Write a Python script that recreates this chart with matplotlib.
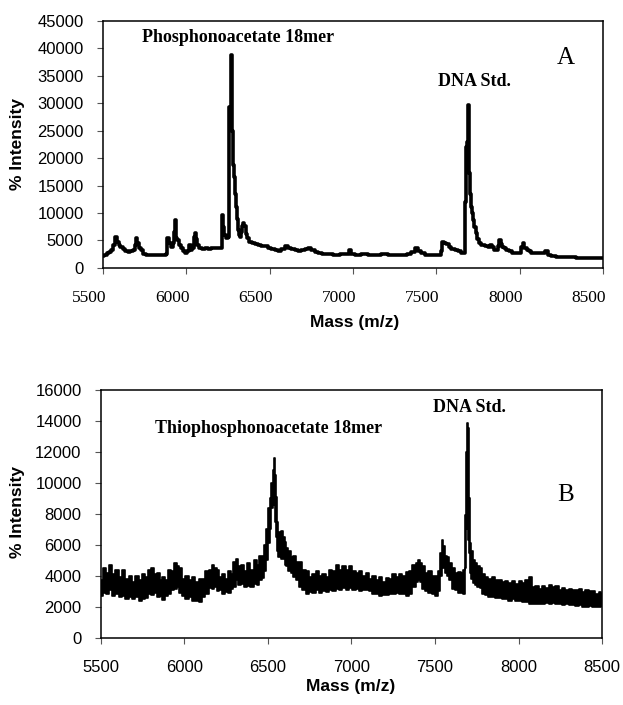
import matplotlib
matplotlib.use("Agg")  # Sin pantalla
import matplotlib.pyplot as plt  # Librería para crear gráficos
from matplotlib.transforms import ScaledTranslation  # Para desplazar etiquetas

# ---------------- Datos del panel A (espectro del fosfonoacetato) ----------------
a_mass = [5500, 5515, 5530, 5542, 5555, 5568, 5580, 5590, 5600, 5610, 5625, 5640, 5655, 5670,
          5685, 5695, 5702, 5710, 5722, 5735, 5750, 5764, 5780, 5800, 5820, 5842, 5860, 5875,
          5884, 5890, 5900, 5912, 5925, 5932, 5936, 5942, 5948, 5960, 5972, 5985, 6002, 6012,
          6022, 6032, 6042, 6047, 6052, 6060, 6072, 6085, 6100, 6124, 6140, 6160, 6180, 6200,
          6210, 6214, 6218, 6225, 6232, 6240, 6248, 6254, 6258, 6264, 6268, 6272, 6276, 6282,
          6292, 6297, 6302, 6308, 6312, 6318, 6322, 6330, 6340, 6346, 6352, 6360, 6372, 6385,
          6402, 6420, 6440, 6460, 6482, 6500, 6520, 6542, 6560, 6580, 6602, 6620, 6640, 6660,
          6682, 6700, 6720, 6742, 6760, 6780, 6802, 6830, 6860, 6900, 6940, 6970, 6982, 6995,
          7030, 7070, 7110, 7150, 7190, 7230, 7270, 7310, 7340, 7360, 7382, 7400, 7420, 7444,
          7480, 7522, 7532, 7537, 7550, 7565, 7582, 7600, 7620, 7642, 7660, 7672, 7678, 7682,
          7688, 7692, 7696, 7700, 7705, 7710, 7716, 7722, 7730, 7742, 7752, 7762, 7780, 7802,
          7818, 7832, 7842, 7852, 7865, 7876, 7882, 7892, 7900, 7912, 7930, 7945, 7962, 7985,
          8005, 8015, 8022, 8035, 8048, 8062, 8080, 8100, 8122, 8140, 8162, 8180, 8200, 8240,
          8280, 8320, 8360, 8400, 8440, 8480, 8500]
a_int = [2100, 2400, 2700, 2950, 3200, 4200, 5700, 4800, 4100, 3850, 3400, 3100, 2950, 3100,
         3300, 4200, 5400, 4600, 3600, 3200, 2600, 2400, 2300, 2400, 2300, 2350, 2300, 2400,
         2500, 5400, 4500, 3850, 4500, 6500, 8700, 5500, 5000, 4200, 3600, 3000, 2700, 3100,
         4200, 3200, 3600, 5600, 6300, 5200, 4200, 3700, 3500, 3600, 3500, 3700, 3600, 3650,
         3700, 8000, 9600, 7500, 6000, 5500, 5400, 5600, 29300, 29000, 33000, 38700, 25000, 18700,
         16600, 13500, 11100, 9000, 6900, 6000, 5700, 6500, 7600, 8100, 7600, 6200, 5400, 4800,
         4500, 4300, 4200, 4000, 4000, 3700, 3500, 3300, 3100, 3400, 4000, 3700, 3500, 3200,
         3000, 3200, 3500, 3600, 3200, 2900, 2700, 2600, 2500, 2400, 2500, 2600, 3200, 2600,
         2400, 2500, 2400, 2400, 2500, 2400, 2400, 2350, 2500, 2900, 3600, 3000, 2700, 2400,
         2400, 2400, 3000, 4800, 4500, 4300, 3900, 3500, 3200, 3000, 2800, 2700, 12000, 22000,
         23000, 29600, 18000, 17200, 13500, 11100, 10000, 8700, 7500, 6300, 5300, 4500, 4200, 4000,
         3800, 4200, 3800, 3300, 3300, 4000, 5000, 4300, 3900, 3600, 3300, 3000, 2700, 2700,
         2800, 3800, 4500, 3700, 3300, 3000, 2800, 2750, 2700, 2800, 3000, 2400, 2100, 2000,
         2000, 1950, 1900, 1900, 1850, 1850, 1800]

# ---------------- Datos del panel B (banda de ruido: borde inferior y superior) ----------------
b_mass = [5500, 5520, 5540, 5555, 5575, 5595, 5615, 5635, 5655, 5675, 5695, 5715, 5735, 5755,
          5775, 5790, 5805, 5825, 5845, 5860, 5875, 5895, 5910, 5925, 5945, 5960, 5975, 5995,
          6015, 6035, 6055, 6075, 6095, 6115, 6135, 6155, 6170, 6185, 6200, 6215, 6235, 6255,
          6270, 6285, 6300, 6315, 6330, 6345, 6365, 6385, 6405, 6425, 6440, 6455, 6470, 6485,
          6495, 6505, 6515, 6525, 6532, 6538, 6544, 6550, 6558, 6565, 6575, 6585, 6595, 6605,
          6615, 6630, 6645, 6660, 6675, 6695, 6715, 6735, 6755, 6775, 6795, 6815, 6835, 6855,
          6875, 6895, 6915, 6935, 6955, 6975, 6995, 7015, 7035, 7055, 7075, 7095, 7115, 7135,
          7155, 7175, 7195, 7215, 7235, 7255, 7275, 7295, 7315, 7335, 7355, 7375, 7395, 7405,
          7415, 7430, 7450, 7470, 7490, 7510, 7525, 7538, 7545, 7555, 7565, 7575, 7590, 7610,
          7630, 7650, 7665, 7675, 7682, 7688, 7694, 7700, 7706, 7712, 7720, 7730, 7745, 7760,
          7775, 7790, 7810, 7830, 7850, 7870, 7890, 7910, 7930, 7950, 7970, 7990, 8010, 8030,
          8050, 8070, 8090, 8110, 8130, 8150, 8170, 8190, 8210, 8230, 8250, 8270, 8290, 8310,
          8330, 8350, 8370, 8390, 8410, 8430, 8450, 8470, 8490, 8500]
b_high = [3700, 4500, 4200, 4700, 4100, 4400, 3900, 4400, 3800, 4000, 3600, 4000, 3700, 4100,
          3900, 4400, 4500, 4100, 4200, 3700, 3900, 3700, 4400, 4300, 4800, 4600, 4500, 3800,
          4000, 3700, 3900, 3600, 3800, 3800, 4300, 4400, 4700, 4500, 4400, 3900, 4100, 3800,
          4300, 4100, 4900, 5100, 4600, 4700, 4300, 4800, 4400, 5000, 4700, 5300, 5300, 6000,
          7000, 8400, 9000, 10000, 10800, 11600, 10500, 9100, 7500, 6800, 6500, 6900, 6500, 6200,
          5800, 5600, 5200, 5300, 4900, 4900, 4400, 4300, 3900, 4100, 4300, 4000, 4100, 3950,
          4400, 4300, 4700, 4400, 4600, 4400, 4600, 4300, 4200, 4300, 4000, 4150, 3800, 4000,
          3750, 3950, 3600, 3850, 3800, 4100, 3950, 4100, 4000, 4250, 4300, 4700, 4800, 5000,
          4800, 4600, 4200, 4300, 4000, 4000, 4300, 5500, 6300, 5900, 5300, 5200, 4800, 4500,
          4150, 4250, 4200, 4400, 7900, 12000, 13850, 13550, 9000, 6100, 5600, 5000, 4800, 4600,
          4500, 4100, 3950, 3800, 3900, 3700, 3750, 3600, 3650, 3500, 3650, 3450, 3650, 3500,
          3700, 3900, 3300, 3350, 3150, 3350, 3200, 3400, 3300, 3350, 3100, 3200, 3100, 3150,
          3050, 3100, 3150, 2950, 3050, 3000, 3000, 2850, 2950, 2850]
b_low = [2700, 2900, 2800, 3100, 2700, 2800, 2600, 2700, 2500, 2600, 2500, 2600, 2400, 2500,
         2550, 2800, 2750, 2900, 2650, 2700, 2450, 2700, 2850, 3100, 3150, 3300, 2900, 2700,
         2500, 2600, 2350, 2400, 2300, 2650, 2800, 3200, 3150, 3300, 3000, 3050, 2800, 2950,
         2900, 3150, 3300, 3700, 3400, 3450, 3250, 3350, 3250, 3450, 3400, 3700, 3850, 4300,
         5000, 6100, 7000, 8400, 8800, 8600, 7500, 6500, 5600, 5200, 5300, 5100, 5100, 4700,
         4600, 4300, 4200, 3900, 3700, 3300, 3100, 2850, 2950, 2900, 3050, 2900, 3000, 2950,
         3050, 3000, 3150, 3050, 3200, 3100, 3200, 3100, 3150, 3000, 3100, 3050, 3000, 2850,
         2800, 2700, 2750, 2750, 2850, 2800, 2900, 2800, 2800, 2700, 2800, 3250, 3600, 3700,
         3600, 3150, 3000, 2900, 2850, 2700, 3000, 4000, 4600, 4500, 4200, 4000, 3700, 3150,
         3050, 2900, 2900, 2800, 4500, 7000, 9000, 6300, 5500, 4200, 3800, 3500, 3400, 3250,
         3200, 2850, 2750, 2650, 2650, 2550, 2550, 2500, 2500, 2400, 2500, 2400, 2400, 2300,
         2300, 2200, 2200, 2150, 2150, 2150, 2250, 2150, 2250, 2200, 2200, 2100, 2150, 2100,
         2100, 2050, 2100, 2000, 2000, 2050, 1950, 2000, 2000, 2050]

# Marcas de los ejes
mass_ticks = [5500, 6000, 6500, 7000, 7500, 8000, 8500]
a_yticks = [0, 5000, 10000, 15000, 20000, 25000, 30000, 35000, 40000, 45000]
b_yticks = [0, 2000, 4000, 6000, 8000, 10000, 12000, 14000, 16000]

SANS = "Liberation Sans"  # Parecida a Arial
SERIF = "Liberation Serif"  # Parecida a Times New Roman

fig = plt.figure(figsize=(6.23, 7.05), dpi=100)
ax_a = fig.add_axes([0.1653, 0.6199, 0.8026, 0.3507])
ax_b = fig.add_axes([0.1621, 0.0955, 0.8042, 0.3513])

for ax in (ax_a, ax_b):
    for spine in ax.spines.values():
        spine.set_linewidth(1.1)
        spine.set_color("black")
    ax.set_xlim(5500, 8500)
    ax.set_xticks(mass_ticks)
    ax.tick_params(direction="out", length=4, width=0.8, color="#555555")
    ax.tick_params(axis="x", pad=12)
    ax.tick_params(axis="y", pad=10)

# Panel A: línea del espectro (escalonada, como en el original)
ax_a.plot(a_mass, a_int, color="black", linewidth=2.6, drawstyle="steps-mid")
ax_a.set_ylim(0, 45000)
ax_a.set_yticks(a_yticks)
ax_a.set_yticklabels([str(v) for v in a_yticks], family=SANS, fontsize=12)
ax_a.set_xticklabels([str(v) for v in mass_ticks], family=SERIF, fontsize=12.5)
# Las etiquetas del eje x de A están corridas a la izquierda en el original
shift = ScaledTranslation(-14 / 100, 0, fig.dpi_scale_trans)
for lab in ax_a.get_xticklabels():
    lab.set_transform(lab.get_transform() + shift)

ax_a.text(6313, 42000, "Phosphonoacetate 18mer", family=SERIF, fontweight="bold",
          fontsize=13, ha="center", va="center")
ax_a.text(7726, 33900, "DNA Std.", family=SERIF, fontweight="bold", fontsize=13,
          ha="center", va="center")
ax_a.text(8278, 38300, "A", family=SERIF, fontsize=18, ha="center", va="center")

# Panel B: banda de ruido rellena
ax_b.fill_between(b_mass, b_low, b_high, color="black", linewidth=0, step="mid")
ax_b.plot(b_mass, b_high, color="black", linewidth=1.2, drawstyle="steps-mid")
ax_b.plot(b_mass, b_low, color="black", linewidth=1.2, drawstyle="steps-mid")
ax_b.set_ylim(0, 16000)
ax_b.set_yticks(b_yticks)
ax_b.set_yticklabels([str(v) for v in b_yticks], family=SANS, fontsize=12)
ax_b.set_xticklabels([str(v) for v in mass_ticks], family=SANS, fontsize=12)

ax_b.text(6502, 13500, "Thiophosphonoacetate 18mer", family=SERIF, fontweight="bold",
          fontsize=13, ha="center", va="center")
ax_b.text(7708, 14850, "DNA Std.", family=SERIF, fontweight="bold", fontsize=13,
          ha="center", va="center")
ax_b.text(8284, 9220, "B", family=SERIF, fontsize=18, ha="center", va="center")

# Títulos de los ejes
fig.text(18 / 623, 1 - 144 / 705, "% Intensity", family=SANS, fontweight="bold",
         fontsize=12.5, rotation=90, ha="center", va="center")
fig.text(355 / 623, 1 - 323 / 705, "Mass (m/z)", family=SANS, fontweight="bold",
         fontsize=12.5, ha="center", va="center")
fig.text(18 / 623, 1 - 512 / 705, "% Intensity", family=SANS, fontweight="bold",
         fontsize=12.5, rotation=90, ha="center", va="center")
fig.text(351 / 623, 1 - 687 / 705, "Mass (m/z)", family=SANS, fontweight="bold",
         fontsize=12.5, ha="center", va="center")

fig.savefig("out.png", dpi=100, facecolor="white")
